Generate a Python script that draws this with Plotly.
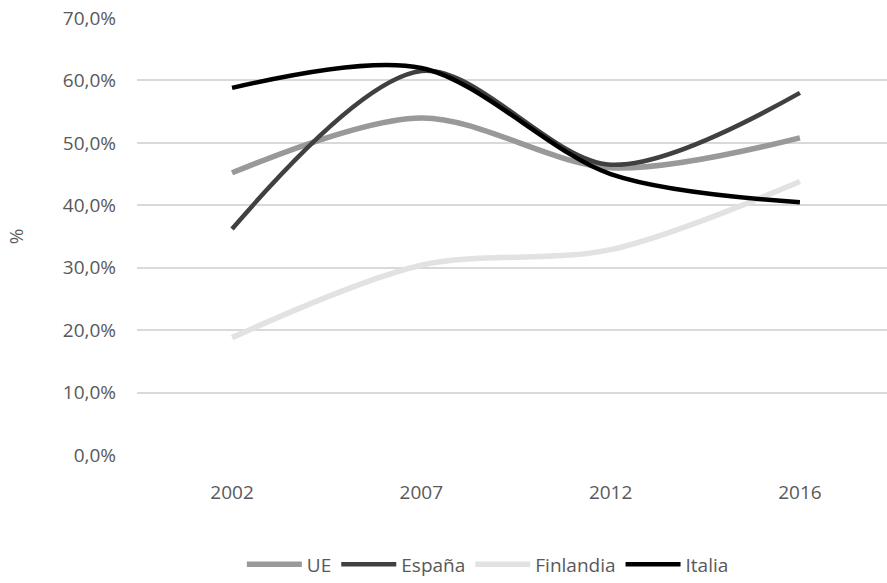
import plotly.graph_objects as go

years = ["2002", "2007", "2012", "2016"]
ue = [45.2, 54.0, 46.0, 50.8]
espana = [36.2, 61.5, 46.5, 58.0]
finlandia = [18.8, 30.4, 32.9, 43.8]
italia = [58.8, 62.0, 45.0, 40.5]
y_ticks = [0, 10, 20, 30, 40, 50, 60, 70]
y_tick_text = ["0,0%", "10,0%", "20,0%", "30,0%", "40,0%", "50,0%", "60,0%", "70,0%"]

series = [
    ("UE", ue, "#999999", 5.5),
    ("España", espana, "#404040", 4.5),
    ("Finlandia", finlandia, "#e2e2e2", 5.5),
    ("Italia", italia, "#000000", 4.5),
]

fig = go.Figure()
xs = list(range(len(years)))
for name, vals, col, w in series:
    fig.add_trace(go.Scatter(
        x=xs, y=vals, name=name, mode="lines",
        line=dict(color=col, width=w, shape="spline", smoothing=0.9),
    ))

font_fam = "Open Sans, Noto Sans, sans-serif"
fig.update_layout(
    width=887, height=583,
    margin=dict(l=137, r=0, t=18, b=128),
    paper_bgcolor="white", plot_bgcolor="white",
    font=dict(family=font_fam, size=19, color="#595959"),
    showlegend=True,
    legend=dict(orientation="h", xref="container", yref="container",
                x=0.55, xanchor="center", y=0.032, yanchor="middle",
                font=dict(size=19, color="#595959"), traceorder="normal",
                itemwidth=55),
    xaxis=dict(tickvals=xs, ticktext=years, range=[-0.502, 3.46],
               showgrid=False, zeroline=False, showline=False,
               ticks="", ticklabelstandoff=24),
    yaxis=dict(range=[0, 70], tickvals=y_ticks, ticktext=y_tick_text,
               showgrid=True, gridcolor="#d9d9d9",
               gridwidth=2, zeroline=False, showline=False, ticks="",
               ticklabelstandoff=20,
               title=dict(text="%", standoff=34, font=dict(size=19))),
)

fig.write_html("out.html")
